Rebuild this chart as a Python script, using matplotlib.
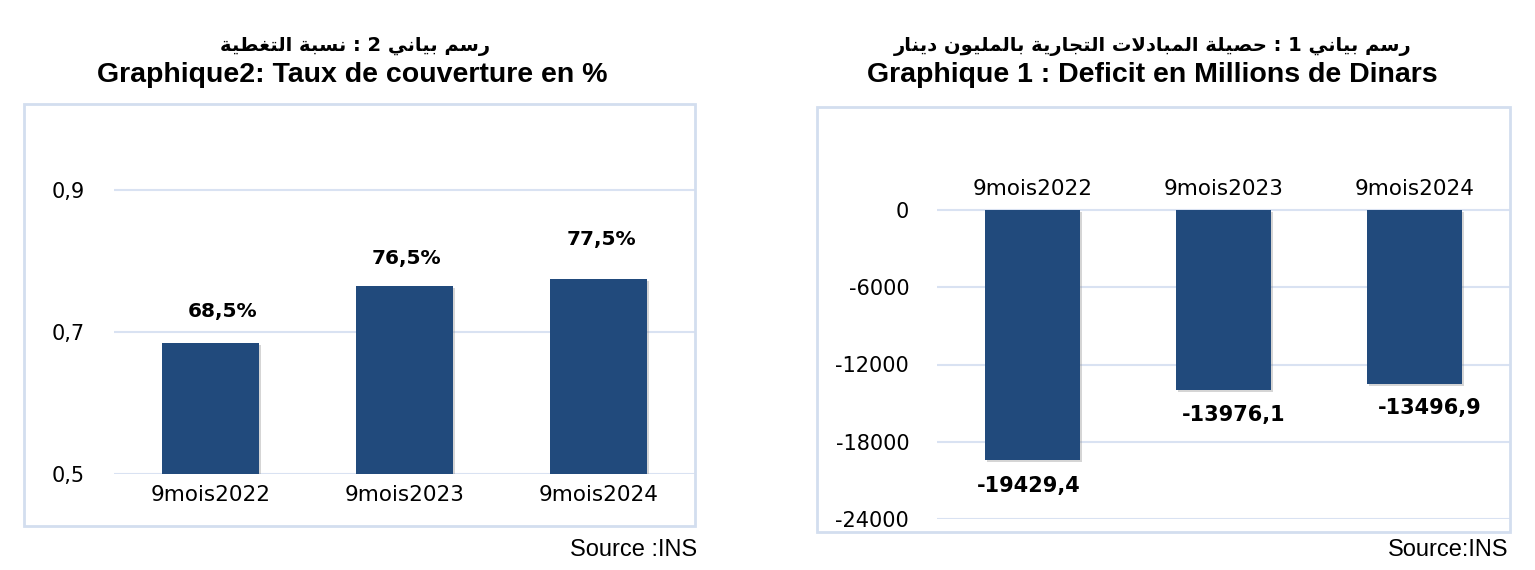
import matplotlib
matplotlib.use('Agg')
import matplotlib.pyplot as plt
from matplotlib.patches import Rectangle
from matplotlib.ticker import FuncFormatter
import matplotlib.patheffects as pe

plt.rcParams['axes.unicode_minus'] = False

# data
periods = ['9mois2022', '9mois2023', '9mois2024']
taux = [68.5, 76.5, 77.5]          # taux de couverture en %
deficit = [-19429.4, -13976.1, -13496.9]   # millions de dinars
taux_ticks = [0.5, 0.7, 0.9]
deficit_ticks = [0, -6000, -12000, -18000, -24000]

title_ar_2 = 'رسم بياني 2 : نسبة التغطية'
title_fr_2 = 'Graphique2: Taux de couverture en %'
title_ar_1 = 'رسم بياني 1 : حصيلة المبادلات التجارية بالمليون دينار'
title_fr_1 = 'Graphique 1 : Deficit en Millions de Dinars'
src_2 = 'Source :INS'
src_1 = 'Source:INS'

BAR = '#214a7c'
GRID = '#d9e2f2'
BOX = '#d3deef'

# very small arabic shaper (matplotlib does not join arabic letters)
# letter: (isolated, final, initial, medial)
FORMS = {
    'ا': ('\uFE8D', '\uFE8E', None, None),
    'ب': ('\uFE8F', '\uFE90', '\uFE91', '\uFE92'),
    'ة': ('\uFE93', '\uFE94', None, None),
    'ت': ('\uFE95', '\uFE96', '\uFE97', '\uFE98'),
    'ج': ('\uFE9D', '\uFE9E', '\uFE9F', '\uFEA0'),
    'ح': ('\uFEA1', '\uFEA2', '\uFEA3', '\uFEA4'),
    'د': ('\uFEA9', '\uFEAA', None, None),
    'ر': ('\uFEAD', '\uFEAE', None, None),
    'س': ('\uFEB1', '\uFEB2', '\uFEB3', '\uFEB4'),
    'ص': ('\uFEB9', '\uFEBA', '\uFEBB', '\uFEBC'),
    'ط': ('\uFEC1', '\uFEC2', '\uFEC3', '\uFEC4'),
    'غ': ('\uFECD', '\uFECE', '\uFECF', '\uFED0'),
    'ل': ('\uFEDD', '\uFEDE', '\uFEDF', '\uFEE0'),
    'م': ('\uFEE1', '\uFEE2', '\uFEE3', '\uFEE4'),
    'ن': ('\uFEE5', '\uFEE6', '\uFEE7', '\uFEE8'),
    'و': ('\uFEED', '\uFEEE', None, None),
    'ي': ('\uFEF1', '\uFEF2', '\uFEF3', '\uFEF4'),
    'لا': ('\uFEFB', '\uFEFC', None, None),
}


def shape_word(w):
    toks = []
    i = 0
    while i < len(w):
        if w[i] == 'ل' and i + 1 < len(w) and w[i + 1] == 'ا':
            toks.append('لا')
            i += 2
        else:
            toks.append(w[i])
            i += 1
    out = []
    for k, t in enumerate(toks):
        if t not in FORMS:
            out.append(t)
            continue
        f = FORMS[t]
        prev = k > 0 and toks[k - 1] in FORMS and FORMS[toks[k - 1]][2] is not None
        nxt = f[2] is not None and k + 1 < len(toks) and toks[k + 1] in FORMS
        if prev and nxt:
            out.append(f[3])
        elif prev:
            out.append(f[1])
        elif nxt:
            out.append(f[2])
        else:
            out.append(f[0])
    return ''.join(reversed(out))


def shape(s):
    # right-to-left: last word is drawn first
    return ' '.join(shape_word(w) for w in reversed(s.split(' ')))


W, H = 1535, 570
fig = plt.figure(figsize=(W / 100, H / 100), dpi=100)


def fx(px):
    return px / W


def fy(py):
    return 1 - py / H


# frames around both charts
fig.add_artist(Rectangle((fx(24), fy(526)), fx(695 - 24), (526 - 104) / H,
                         transform=fig.transFigure, fill=False, ec=BOX, lw=2))
fig.add_artist(Rectangle((fx(817), fy(532)), fx(1510 - 817), (532 - 107) / H,
                         transform=fig.transFigure, fill=False, ec=BOX, lw=2))

shadow = [pe.SimplePatchShadow(offset=(1.5, -1.5), shadow_rgbFace='#888888', alpha=0.35), pe.Normal()]

# ---- Graphique 2 (left)
ax2 = fig.add_axes([fx(114), fy(474), fx(695 - 114), (474 - 119) / H])
x = list(range(len(periods)))
bars = ax2.bar(x, [t / 100 for t in taux], width=0.5, color=BAR, zorder=3)
for b in bars:
    b.set_path_effects(shadow)
ax2.set_xlim(-0.5, 2.5)
ax2.set_ylim(0.5, 1.0)
ax2.set_yticks(taux_ticks)
ax2.yaxis.set_major_formatter(FuncFormatter(lambda v, p: ('%.1f' % v).replace('.', ',')))
ax2.set_xticks(x)
ax2.set_xticklabels(periods)
ax2.grid(axis='y', color=GRID, lw=1.5, zorder=0)
for s in ax2.spines.values():
    s.set_visible(False)
ax2.tick_params(axis='both', length=0)
ax2.tick_params(axis='y', pad=21, labelsize=15)
ax2.tick_params(axis='x', pad=8, labelsize=15.5)
offs2 = [(12, 31), (2, 27), (3, 39)]
for i, t in enumerate(taux):
    ax2.annotate(('%.1f%%' % t).replace('.', ','), (x[i], t / 100),
                 xytext=(offs2[i][0] * 0.72, offs2[i][1] * 0.72), textcoords='offset points',
                 ha='center', va='center', fontsize=14.5, fontweight='bold')

# ---- Graphique 1 (right)
ax1 = fig.add_axes([fx(937), fy(519), fx(1510 - 937), (519 - 107) / H])
bars = ax1.bar(x, deficit, width=0.5, color=BAR, zorder=3)
for b in bars:
    b.set_path_effects(shadow)
ax1.set_xlim(-0.5, 2.5)
ax1.set_ylim(-24000, 8000)
ax1.set_yticks(deficit_ticks)
ax1.set_xticks(x)
ax1.set_xticklabels(periods)
ax1.xaxis.set_ticks_position('top')
ax1.spines['top'].set_position(('data', 0))
ax1.grid(axis='y', color=GRID, lw=1.5, zorder=0)
for s in ax1.spines.values():
    s.set_visible(False)
ax1.tick_params(axis='both', length=0)
ax1.tick_params(axis='y', pad=20, labelsize=15)
ax1.tick_params(axis='x', pad=8, labelsize=15.5)
offs1 = [(-4, -26), (10, -25), (15, -24)]
for i, d in enumerate(deficit):
    ax1.annotate(('%.1f' % d).replace('.', ','), (x[i], d),
                 xytext=(offs1[i][0] * 0.72, offs1[i][1] * 0.72), textcoords='offset points',
                 ha='center', va='center', fontsize=15, fontweight='bold')

# titles
fig.text(fx(355), fy(46), shape(title_ar_2), ha='center', va='center', fontsize=14,
         fontweight='bold', family=['DejaVu Sans'])
fig.text(fx(352), fy(75), title_fr_2, ha='center', va='center', fontsize=20.5,
         fontweight='bold', family=['Liberation Sans'])
fig.text(fx(1153), fy(46), shape(title_ar_1), ha='center', va='center', fontsize=14,
         fontweight='bold', family=['DejaVu Sans'])
fig.text(fx(1152), fy(75), title_fr_1, ha='center', va='center', fontsize=20.5,
         fontweight='bold', family=['Liberation Sans'])

fig.text(fx(697), fy(550), src_2, ha='right', va='center', fontsize=17, family=['Liberation Sans'])
fig.text(fx(1508), fy(550), src_1, ha='right', va='center', fontsize=17, family=['Liberation Sans'])

plt.savefig('out.png', dpi=100)
